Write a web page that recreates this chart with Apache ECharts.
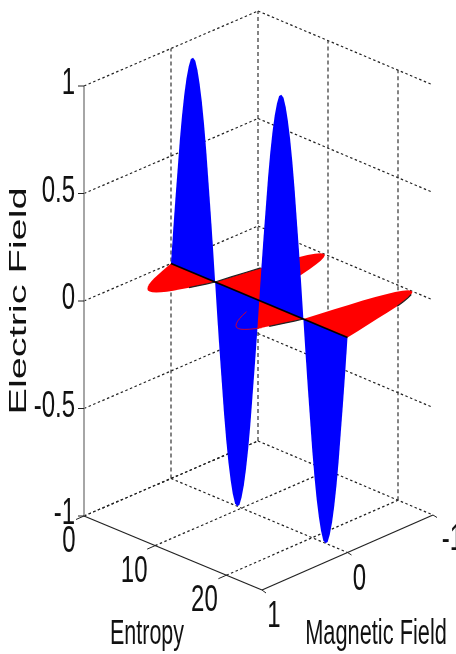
<!DOCTYPE html>
<html><head><meta charset="utf-8">
<style>html,body{margin:0;padding:0;background:#fff}#c{width:456px;height:654px}</style>
<script src="https://cdn.jsdelivr.net/npm/echarts@6/dist/echarts.min.js"></script>
</head><body><div id="c"></div>
<script>
const entropy = [0,.3125,.625,.9375,1.25,1.5625,1.875,2.1875,2.5,2.8125,3.125,3.4375,3.75,4.0625,4.375,4.6875,5,5.3125,5.625,5.9375,
6.25,6.5625,6.875,7.1875,7.5,7.8125,8.125,8.4375,8.75,9.0625,9.375,9.6875,10,10.3125,10.625,10.9375,11.25,11.5625,11.875,12.1875,
12.5,12.8125,13.125,13.4375,13.75,14.0625,14.375,14.6875,15,15.3125,15.625,15.9375,16.25,16.5625,16.875,17.1875,17.5,17.8125,18.125,18.4375,
18.75,19.0625,19.375,19.6875,20,20.3125,20.625,20.9375,21.25,21.5625,21.875,22.1875,22.5,22.8125,23.125,23.4375,23.75,24.0625,24.375,24.6875,25];
const electricField = [0,.16,.31,.45,.59,.71,.81,.89,.95,.99,1,.99,.95,.89,.81,.71,.59,.45,.31,.16,
0,-.16,-.31,-.45,-.59,-.71,-.81,-.89,-.95,-.99,-1,-.99,-.95,-.89,-.81,-.71,-.59,-.45,-.31,-.16,
0,.16,.31,.45,.59,.71,.81,.89,.95,.99,1,.99,.95,.89,.81,.71,.59,.45,.31,.16,
0,-.16,-.31,-.45,-.59,-.71,-.81,-.89,-.95,-.99,-1,-.99,-.95,-.89,-.81,-.71,-.59,-.45,-.31,-.16,0];
const magneticField = [0,.08,.155,.225,.295,.355,.405,.445,.475,.495,.5,.495,.475,.445,.405,.355,.295,.225,.155,.08,
0,-.16,-.31,-.45,-.59,-.71,-.81,-.89,-.95,-.99,-1,-.99,-.95,-.89,-.81,-.71,-.59,-.45,-.31,-.16,
0,.08,.155,.225,.295,.355,.405,.445,.475,.495,.5,.495,.475,.445,.405,.355,.295,.225,.155,.08,
0,-.16,-.31,-.45,-.59,-.71,-.81,-.89,-.95,-.99,-1,-.99,-.95,-.89,-.81,-.71,-.57,-.43,-.29,-.15,0];
const entropyTicks = [0,10,20];
const magneticTicks = [-1,0,1];
const electricTicks = [-1,-0.5,0,0.5,1];
const entropyLimits = [0,25];
const lobes = [[0,20],[20,40],[40,60],[60,80]];
const axisTitles = {entropy:'Entropy', magnetic:'Magnetic Field', electric:'Electric Field'};

// slightly converging oblique view of the box: (entropy, magnetic, electric) -> plot position
function P(e,m,z){
  return [84 + e*7.12 + (1-m)*(87-0.06*e), 516 + e*2.96 - (1-m)*37.5 - (z+1)*215];
}
const FONT = 'Liberation Sans, Arial, sans-serif';
const pts = (i0,i1,fn)=>{const a=[];for(let i=i0;i<=i1;i++)a.push(fn(i));return a;};
const eMax = entropyLimits[1];
const entropyLabelDx = {0:-15,10:-21,20:-22};

function layer(name,z,build){
  return {type:'custom',name,coordinateSystem:'cartesian2d',z,silent:true,clip:false,data:[[0,0]],
    renderItem:(p,api)=>{
      const C=q=>api.coord(q);
      const line=(a,b,s)=>({type:'line',shape:{x1:C(a)[0],y1:C(a)[1],x2:C(b)[0],y2:C(b)[1]},style:Object.assign({fill:null},s)});
      const poly=(arr,s)=>({type:'polyline',shape:{points:arr.map(C)},style:Object.assign({fill:null},s)});
      const gon=(arr,s)=>({type:'polygon',shape:{points:arr.map(C)},style:s});
      const text=(t,q,o)=>({type:'text',x:C(q)[0],y:C(q)[1],scaleX:o.sx||1,scaleY:o.sy||1.55,rotation:o.rot||0,
        style:{text:t,fill:'#111',font:(o.size||24)+'px '+FONT,textAlign:o.align||'center',textVerticalAlign:'middle'}});
      return {type:'group',children:build({line,poly,gon,text})};
    }};
}

const dotted={stroke:'#222',lineWidth:1.2,lineDash:[2.5,2.5]};
const dashed={stroke:'#333',lineWidth:1.2,lineDash:[4,3]};
const solid={stroke:'#222',lineWidth:1.3};

const gridLayer=layer('grid',1,({line})=>{
  const o=[];
  electricTicks.forEach(z=>{
    o.push(line(P(0,1,z),P(0,-1,z),dotted));
    o.push(line(P(0,-1,z),P(eMax,-1,z),dotted));
  });
  [[0,0],[0,-1],[10,-1],[20,-1]].forEach(([e,m])=>o.push(line(P(e,m,-1),P(e,m,1),dashed)));
  entropyTicks.forEach(e=>o.push(line(P(e,1,-1),P(e,-1,-1),dotted)));
  [0].forEach(m=>o.push(line(P(0,m,-1),P(eMax,m,-1),dotted)));
  return o;
});
const frameLayer=layer('frame',2,({line})=>{
  const o=[];
  o.push(line(P(0,1,-1),P(0,1,1),{stroke:'#888',lineWidth:1.5}));
  o.push(line(P(0,1,-1),P(eMax,1,-1),solid));
  o.push(line(P(eMax,1,-1),P(eMax,-1,-1),solid));
  electricTicks.forEach(z=>{const a=P(0,1,z);o.push(line(a,[a[0]-6,a[1]],{stroke:'#222',lineWidth:1}));});
  entropyTicks.concat(eMax).forEach(e=>{const a=P(e,1,-1);o.push(line(a,e===eMax?[a[0]+4,a[1]+3]:[a[0]-8,a[1]+3.5],{stroke:'#222',lineWidth:1}));});
  magneticTicks.forEach(m=>{const a=P(eMax,m,-1);if(m!==1)o.push(line(a,[a[0]+4,a[1]+2.5],{stroke:'#222',lineWidth:1}));});
  return o;
});
const redLayer=layer('Magnetic wave',3,({gon})=>lobes.map(([a,b])=>
  gon(pts(a,b,i=>P(entropy[i],magneticField[i],0)),{fill:'#ff0000'})));
const blueLayer=layer('Electric wave',4,({gon})=>lobes.map(([a,b])=>
  gon(pts(a,b,i=>P(entropy[i],0,electricField[i])),{fill:'#0000ff'})));
const edgeLayer=layer('edges',5,({poly})=>{
  const dark={stroke:'#222',lineWidth:1.2};
  const red=i=>P(entropy[i],magneticField[i],0);
  return [
    poly(pts(43,55,red),{stroke:'#ff0000',lineWidth:.8}),
    poly(pts(17,20,red),dark),
    poly(pts(20,23,red),dark),
    poly(pts(56,60,red),dark),
    poly(pts(72,75,red),dark),
    poly([P(0,0,0),P(eMax,0,0)],{stroke:'#000',lineWidth:1.8})
  ];
});
const labelLayer=layer('labels',6,({text})=>{
  const o=[];
  electricTicks.forEach(z=>{const a=P(0,1,z);o.push(text(String(z),[75,a[1]-2],{align:'right'}));});
  entropyTicks.forEach(e=>{const a=P(e,1,-1);o.push(text(String(e),[a[0]+entropyLabelDx[e],a[1]+26],{}));});
  magneticTicks.forEach(m=>{const a=P(eMax,m,-1);o.push(text(String(m),m===-1?[463,a[1]+25]:[a[0]+12,a[1]+27],{align:m===-1?'right':'center'}));});
  o.push(text(axisTitles.entropy,[147,634],{size:21.5,sy:1.65}));
  o.push(text(axisTitles.magnetic,[376,634],{size:21.8,sy:1.6}));
  o.push(text(axisTitles.electric,[19,301],{size:39.7,sx:1,sy:.6,rot:Math.PI/2}));
  return o;
});

const chart=echarts.init(document.getElementById('c'),null,{renderer:'canvas'});
chart.setOption({
  animation:false,backgroundColor:'#fff',
  grid:{left:0,right:0,top:0,bottom:0},
  xAxis:{type:'value',min:0,max:456,show:false},
  yAxis:{type:'value',min:0,max:654,inverse:true,show:false},
  series:[gridLayer,frameLayer,redLayer,blueLayer,edgeLayer,labelLayer]
});
</script></body></html>
